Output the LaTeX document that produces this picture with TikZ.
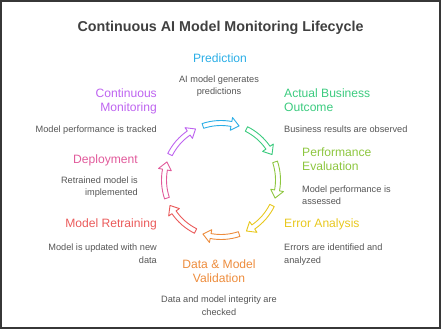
\documentclass[tikz,border=0pt]{standalone}
\usepackage{fontspec}
\setmainfont{Liberation Sans}
\definecolor{cPred}{RGB}{43,174,230}
\definecolor{cOut}{RGB}{60,203,127}
\definecolor{cPerf}{RGB}{141,198,63}
\definecolor{cErr}{RGB}{232,200,30}
\definecolor{cVal}{RGB}{237,140,60}
\definecolor{cRet}{RGB}{234,90,90}
\definecolor{cDep}{RGB}{225,90,155}
\definecolor{cMon}{RGB}{190,100,240}
\definecolor{titlegray}{RGB}{64,64,64}
\definecolor{descgray}{RGB}{85,85,85}
\definecolor{framegray}{RGB}{55,55,55}
\begin{document}
\begin{tikzpicture}[x=1pt,y=1pt,
  titlestyle/.style={font=\fontsize{14.3}{17}\selectfont\bfseries, text=titlegray, inner sep=0pt},
  lab/.style={font=\fontsize{12.1}{14}\selectfont, inner sep=0pt},
  desc/.style={font=\fontsize{9.2}{12.5}\selectfont, text=descgray, inner sep=0pt},
  cyc/.style={fill=white, line width=0.9pt, line join=round}]
\path[use as bounding box] (0,0) rectangle (441,329);
\draw[line width=2pt, draw=framegray] (1,1) rectangle (440,328);
\node[titlestyle, anchor=base] (title) at (220.5,297) {Continuous AI Model Monitoring Lifecycle};

% cycle arrows
\begin{scope}[shift={(221,149)}]
\foreach \c/\col in {90/cPred, 45/cOut, 0/cPerf, -45/cErr, -90/cVal, -135/cRet, 180/cDep, 135/cMon} {
  \pgfmathsetmacro\aS{\c+18.5}
  \pgfmathsetmacro\aT{\c-18.5}
  \pgfmathsetmacro\aH{\c-18.5+8}
  \draw[cyc, draw=\col] (\aS:59.5) arc[start angle=\aS, end angle=\aH, radius=59.5]
     -- (\aH:63.5) -- (\aT:57) -- (\aH:50.5) -- (\aH:54.5)
     arc[start angle=\aH, end angle=\aS, radius=54.5] -- cycle;
}
\end{scope}

% Prediction
\node[lab, text=cPred, anchor=base] (pred) at (220,266) {Prediction};
\node[desc, anchor=base, align=center] (predd) at (219,234) {AI model generates\\predictions};
% Actual Business Outcome
\node[lab, text=cOut, anchor=base west, align=left] (out) at (284,217) {Actual Business\\Outcome};
\node[desc, anchor=base west, align=left] (outd) at (284,196) {Business results are observed};
% Performance Evaluation
\node[lab, text=cPerf, anchor=base west, align=left] (perf) at (302,158) {Performance\\Evaluation};
\node[desc, anchor=base west, align=left] (perfd) at (302,124) {Model performance is\\assessed};
% Error Analysis
\node[lab, text=cErr, anchor=base west, align=left] (err) at (284,101) {Error Analysis};
\node[desc, anchor=base west, align=left] (errd) at (284,66) {Errors are identified and\\analyzed};
% Data & Model Validation
\node[lab, text=cVal, anchor=base, align=center] (val) at (219,46) {Data \& Model\\Validation};
\node[desc, anchor=base, align=center] (vald) at (219,14) {Data and model integrity are\\checked};
% Model Retraining
\node[lab, text=cRet, anchor=base east, align=right] (ret) at (157,101) {Model Retraining};
\node[desc, anchor=base east, align=right] (retd) at (157,66) {Model is updated with new\\data};
% Deployment
\node[lab, text=cDep, anchor=base east, align=right] (dep) at (138,165) {Deployment};
\node[desc, anchor=base east, align=right] (depd) at (138,133) {Retrained model is\\implemented};
% Continuous Monitoring
\node[lab, text=cMon, anchor=base east, align=right] (mon) at (157,217) {Continuous\\Monitoring};
\node[desc, anchor=base east, align=right] (mond) at (157,196) {Model performance is tracked};
\end{tikzpicture}
\end{document}
